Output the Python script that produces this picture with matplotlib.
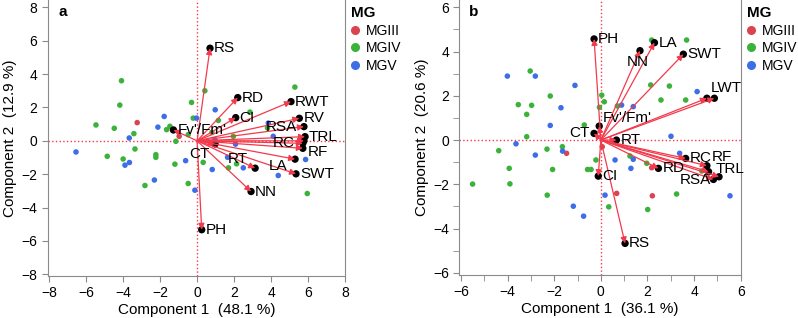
import matplotlib
matplotlib.use('Agg')
import matplotlib.pyplot as plt
from matplotlib.ticker import MultipleLocator
from matplotlib.lines import Line2D

plt.rcParams['font.family'] = ['Liberation Sans', 'DejaVu Sans']

# ---- panel a : loadings ----
a_names = ['RS', 'RD', 'CI', 'RWT', 'RV', 'RSA', 'TRL', 'LWT', 'RC', 'RF',
           'LA', 'SWT', 'RT', 'NN', 'PH', "Fv'/Fm'", 'CT']
a_load_x = [0.70, 2.20, 2.09, 5.08, 5.53, 5.78, 5.84, 5.78, 5.72, 5.72,
            5.30, 5.35, 3.14, 2.92, 0.25, -1.28, 0.97]
a_load_y = [5.55, 2.59, 1.39, 2.35, 1.35, 0.85, 0.25, 0.00, -0.15, -0.45,
            -1.10, -1.98, -1.64, -3.04, -5.33, 0.65, -0.19]

# panel a : scores by maturity group
a_mg3_x = [-3.24, -0.97]
a_mg3_y = [1.09, 0.27]
a_mg4_x = [-4.09, -4.18, -5.47, -4.48, -3.42, -3.36, -4.86, -4.00, -2.23, -2.23,
           -2.82, -1.47, -1.65, -1.15, -1.20, -0.48, -0.30, 0.42, -0.21, 1.15,
           -0.48, 0.80, 0.33, 1.96, 2.14, 1.70, 2.86, 3.81, 5.29, 5.96]
a_mg4_y = [3.60, 2.14, 0.95, 0.75, 0.43, -0.49, -0.93, -1.09, -0.83, -0.99,
           -2.68, 0.87, 0.67, -0.03, -1.40, -2.56, 2.30, 3.00, 1.36, 1.22,
           0.37, 0.50, -1.29, 0.27, -1.38, -1.62, 1.72, 0.77, 3.22, -3.16]
a_mg5_x = [-6.55, -3.67, -3.66, -3.90, -2.12, -1.78, -2.31, -0.62, -0.12, -0.03,
           0.98, 0.96, 2.08, 1.65, 0.82, 2.50, 4.39, 5.87, 3.85, 4.12]
a_mg5_y = [-0.67, 0.17, -1.30, -1.46, 0.82, 1.46, -2.35, -1.19, -2.96, 1.36,
           1.86, 0.07, -0.20, -0.99, -1.72, -1.62, -2.08, -1.12, 1.06, 0.27]

# ---- panel b : loadings ----
b_names = ['PH', 'LA', 'NN', 'SWT', 'LWT', 'RWT', "Fv'/Fm'", 'CT', 'RT', 'RC',
           'RF', 'TRL', 'RV', 'RSA', 'RD', 'CI', 'RS']
b_load_x = [-0.29, 2.30, 1.68, 3.54, 4.87, 4.55, -0.07, -0.29, 0.67, 3.64,
            4.55, 4.62, 5.07, 4.83, 2.47, -0.11, 1.04]
b_load_y = [4.57, 4.40, 4.04, 3.88, 1.89, 1.89, 0.63, 0.30, 0.00, -0.83,
            -1.16, -1.43, -1.66, -1.78, -1.28, -1.63, -4.67]

b_mg3_x = [-1.47, 0.06, 0.68, 2.21, 2.18]
b_mg3_y = [-0.60, -0.30, -2.41, -2.52, -1.25]
b_mg4_x = [-3.03, -3.54, -2.97, -3.18, -2.17, -3.18, -4.38, -3.93, -3.90, -5.50,
           -2.31, -1.65, -2.07, -2.30, -0.71, 0.04, 0.15, -0.06, -0.57, -0.42,
           -0.21, 0.34, 0.71, 2.18, 3.68, 2.14, 2.58, 2.94, 3.64, 1.25,
           1.97, 3.25, 2.01, 4.33]
b_mg4_y = [3.12, 1.60, 1.57, 1.16, 1.99, 0.15, -0.48, -1.28, -1.98, -1.99,
           -0.41, -0.30, -1.33, -2.49, 0.68, 2.03, 1.73, 1.48, -1.33, -1.33,
           -0.90, -3.02, 1.54, 4.52, 4.52, 2.49, 1.81, 2.44, 1.81, -0.72,
           -1.05, -2.44, -3.14, -1.40]
b_mg5_x = [-4.01, -2.81, -1.11, -1.71, -2.17, -3.64, -2.81, -1.64, -1.18, -0.74,
           0.18, 0.61, 1.39, 1.29, 0.89, 1.39, 4.13, 3.01, 3.38, 5.54]
b_mg5_y = [2.89, 2.89, 2.47, 1.46, 0.66, -0.17, -0.68, -0.50, -2.99, -3.44,
           -2.49, -0.90, -0.87, -1.28, 1.58, 1.51, 2.19, 0.17, -0.60, -2.52]

group_labels = ['MGIII', 'MGIV', 'MGV']

# styling
COL3, COL4, COL5 = '#d9444f', '#3bb33b', '#3d6ee8'
ARROW = '#f23a4c'
GREY = '#8a8a8a'

# label placement (offset in pixels, horizontal alignment); default right
a_label_pos = {'RSA': (-7, 0, 'right'), 'RC': (-8, 0, 'right'),
               'LA': (-8, -7, 'right'), 'RT': (-7, 9, 'right'),
               'CT': (-5, -10, 'right'), 'RF': (5, -4, 'left')}
a_hidden = {'LWT'}
b_label_pos = {'NN': (-2, -11, 'center'), 'LWT': (-4, 10, 'left'),
               "Fv'/Fm'": (4, 8, 'left'), 'CT': (-4, 0, 'right'),
               'RF': (5, 9, 'left'), 'TRL': (7, 3, 'left'),
               'RSA': (-2, -1, 'right')}
b_hidden = {'RWT', 'RV'}


def draw_panel(ax, names, lx, ly, groups, label_pos, hidden, letter, xlab, ylab):
    ax.axhline(0, color=ARROW, ls=':', lw=1.0, zorder=1)
    ax.axvline(0, color=ARROW, ls=':', lw=1.0, zorder=1)
    for (gx, gy), col in zip(groups, [COL3, COL4, COL5]):
        ax.scatter(gx, gy, s=16, color=col, edgecolors='none', zorder=2)
    ax.scatter(lx, ly, s=28, color='black', edgecolors='none', zorder=3)
    for name, x, y in zip(names, lx, ly):
        ax.annotate('', xy=(x, y), xytext=(0, 0),
                    arrowprops=dict(arrowstyle='-|>', color=ARROW, lw=0.9,
                                    mutation_scale=9, shrinkA=0, shrinkB=0),
                    zorder=4)
        if name in hidden:
            continue
        dx, dy, ha = label_pos.get(name, (4, 0, 'left'))
        ax.annotate(name, xy=(x, y), xytext=(dx, dy), textcoords='offset pixels',
                    ha=ha, va='center', fontsize=11, zorder=5)
    ax.text(0.035, 0.955, letter, transform=ax.transAxes, fontsize=11,
            fontweight='bold', va='center', ha='left')
    ax.set_xlabel(xlab, fontsize=11, labelpad=2)
    ax.set_ylabel(ylab, fontsize=11, labelpad=3)
    for side in ['left', 'bottom', 'right']:
        ax.spines[side].set_color(GREY)
    ax.spines['top'].set_visible(False)
    ax.tick_params(colors=GREY, labelcolor='black', labelsize=10, length=4,
                   which='both')
    handles = [Line2D([], [], marker='o', ls='', color=c, markersize=5.5)
               for c in [COL3, COL4, COL5]]
    ax.legend(handles, group_labels, loc='upper left',
              bbox_to_anchor=(1.0, 1.0), frameon=False, title='MG',
              fontsize=10, handlelength=0.6, handletextpad=0.45,
              labelspacing=0.25, borderaxespad=0.15, borderpad=0.3,
              alignment='left',
              title_fontproperties={'weight': 'bold', 'size': 11})


fig = plt.figure(figsize=(7.98, 3.18), dpi=100)
ax1 = fig.add_axes([0.0598, 0.1333, 0.3725, 0.8667])
ax2 = fig.add_axes([0.5756, 0.1352, 0.3526, 0.8648])

draw_panel(ax1, a_names, a_load_x, a_load_y,
           [(a_mg3_x, a_mg3_y), (a_mg4_x, a_mg4_y), (a_mg5_x, a_mg5_y)],
           a_label_pos, a_hidden, 'a',
           'Component 1  (48.1 %)', 'Component 2  (12.9 %)')
ax1.set_xlim(-8.08, 8.0)
ax1.set_ylim(-8.08, 8.44)
ax1.set_xticks(range(-8, 9, 2))
ax1.set_yticks(range(-8, 9, 2))

draw_panel(ax2, b_names, b_load_x, b_load_y,
           [(b_mg3_x, b_mg3_y), (b_mg4_x, b_mg4_y), (b_mg5_x, b_mg5_y)],
           b_label_pos, b_hidden, 'b',
           'Component 1  (36.1 %)', 'Component 2  (20.6 %)')
ax2.set_xlim(-6.07, 6.0)
ax2.set_ylim(-6.10, 6.33)
ax2.set_xticks(range(-6, 7, 2))
ax2.set_yticks(range(-6, 7, 2))
ax2.xaxis.set_minor_locator(MultipleLocator(1))
ax2.yaxis.set_minor_locator(MultipleLocator(1))

fig.savefig('out.png', dpi=100)
